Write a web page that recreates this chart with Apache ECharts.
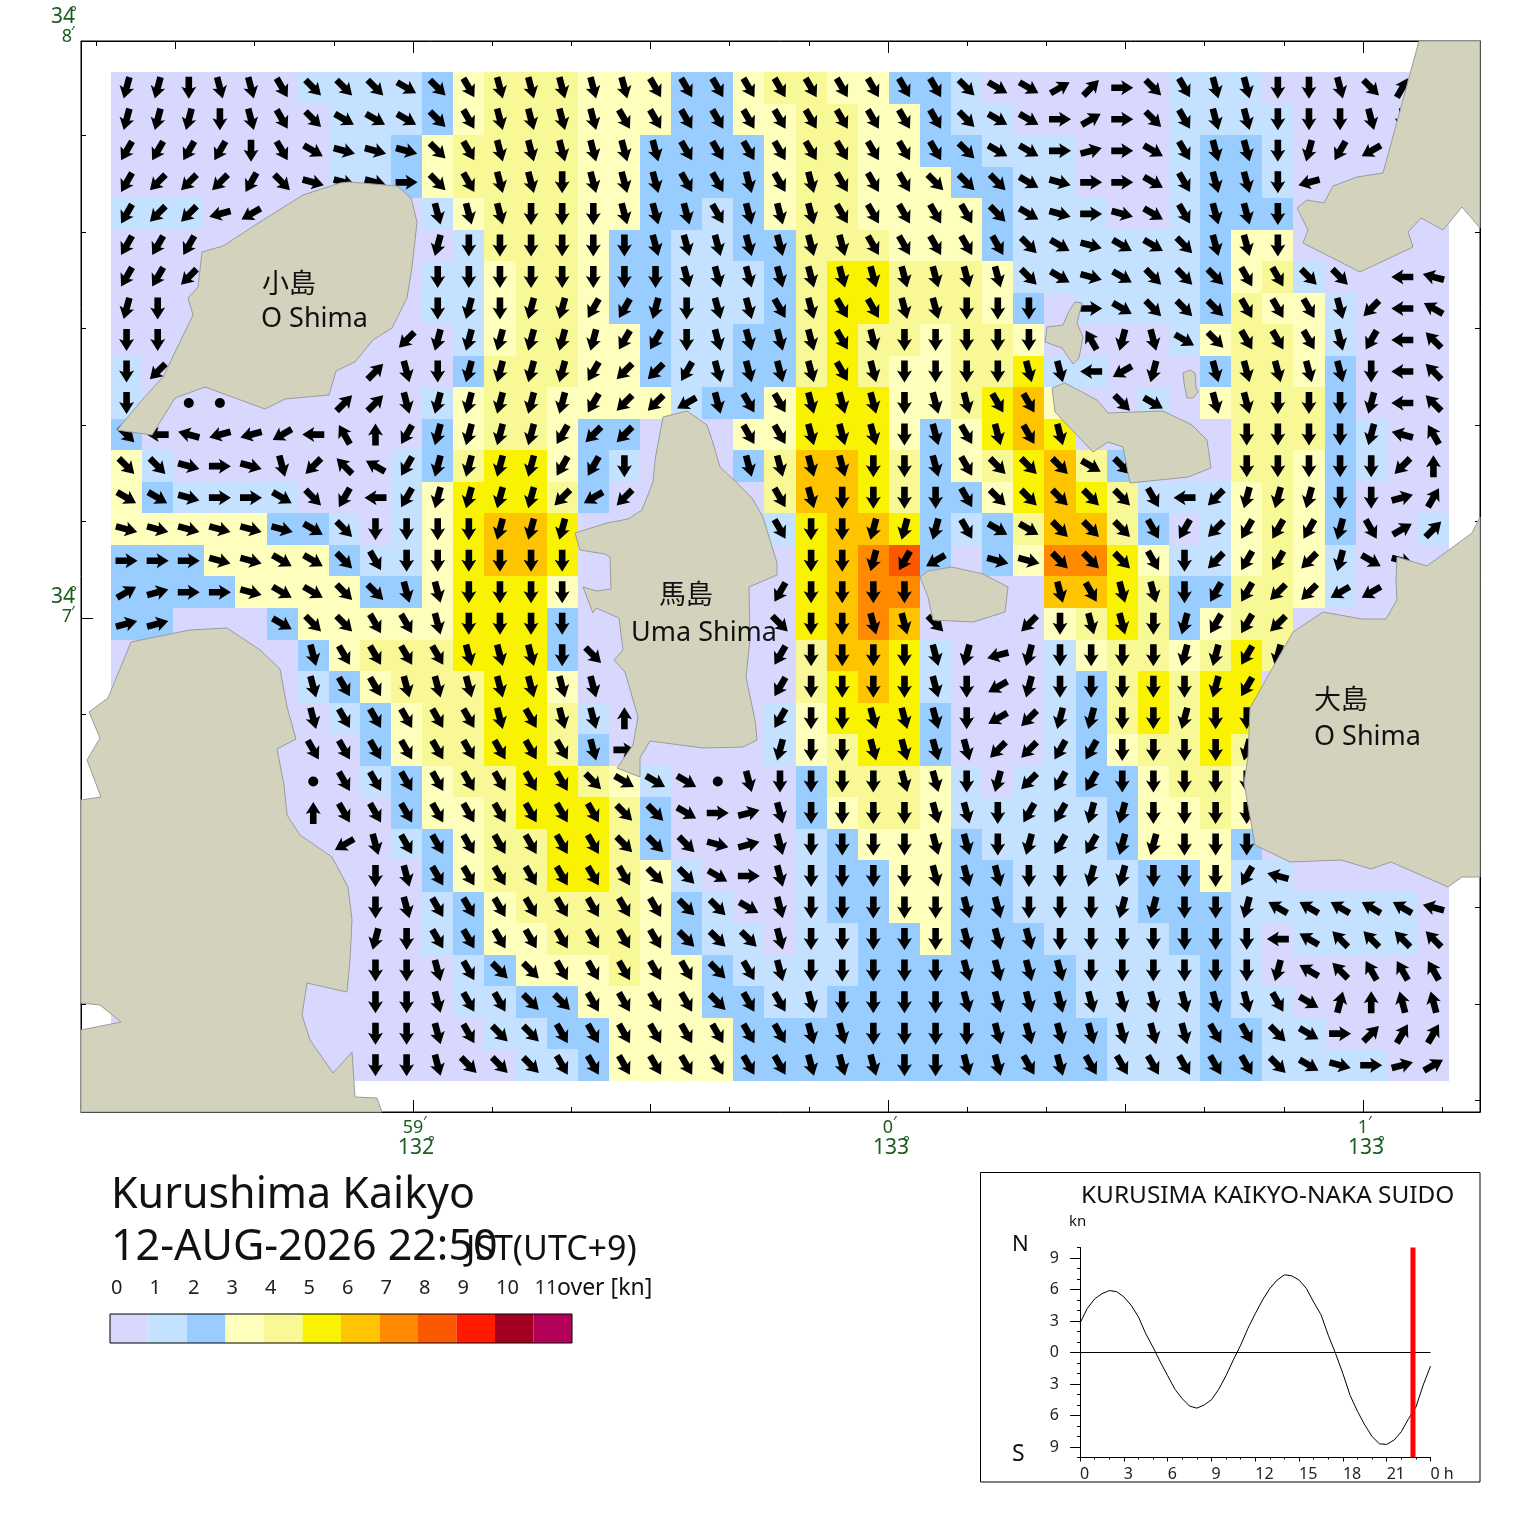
<!DOCTYPE html>
<html><head><meta charset="utf-8"><title>Kurushima Kaikyo</title>
<script src="https://cdn.jsdelivr.net/npm/echarts@6/dist/echarts.min.js"></script>
<style>html,body{margin:0;background:#fff}#c{width:1520px;height:1533px}</style></head>
<body><div id="c"></div>
<script>
// speed class (kn band) per cell, 32 rows by 43 columns; spaces only separate runs
const speedRows = [
"000000 1111 2 3 444 333 22 3 44 33 22 1 000000 111 000000",
"0000000 111 2 3 444 333 22 33 44 33 2 11 00000 1111 00000",
"0000000 11 2 3 4444 33 2222 3 44 33 22 111 000 1 22 1 00000",
"0000000 11 2 3 4444 33 2222 3 44 333 22 11 000 1 22 1 00000",
"111 0000000 1 3 444 33 22 1 2 3 44 3333 2 111 00 1 222 00000",
"00000000000 1 444 3 22 11 22 444 333 2 111111 2 33 00000",
"0000000000 11 3 44 3 22 111 2 4 55 444 3 111111 2 3 4 1 0000",
"0000000000 11 3 44 3 22 111 2 4 55 444 3 2 0 1111 2 4 33 1 000",
"00000000000 1 3 44 33 2 11 22 4 5 44 3 44 3 0000 1 3 44 3 1 000",
"1 0000000000 2 444 33 2 11 22 4 5 4 33 44 5 11 000 2 44 3 2 000",
"1 000000000 1 3 44 3333 1 22 3 555 33 4 5 6 3 00 1 0 3 444 2 000",
"2 000000000 2 3 44 3 22 000 33 555 3 2 3 5 6 5 00000 444 2 1 00",
"3 1 0000000 1 2 4 55 3 2 1 000 2 4 66 5 4 2 3 4 5 6 4 2 000 44 3 2 1 00",
"3 2 1111 000 1 3 555 4 2 0 000 0 4 66 5 4 22 3 5 6 5 4 111 3 4 3 2 000",
"33333 22 1 0 1 3 5 66 5 000000 1 5 66 5 2 1 2 4 66 4 2 0 1 3 4 3 2 00 1",
"222 3333 2 11 3 5 66 5 000000 0 5 6 7 8 2 0 2 3 77 5 3 11 3 4 3 1 000",
"2222 3333 22 3 555 3 000000 0 5 6 77 0000 66 5 4 22 44 3 1 000",
"22 000 2 33333 555 2 000000 0 5 6 7 6 0000 3 4 5 4 2 3 44 00000",
"000000 2 3 444 555 2 000000 0 4 66 5 1 000 1 3 44 3 4 5 4 00000",
"000000 1 2 3 444 55 3 000000 0 4 5 6 5 1 000 1 2 4 5 4 55 000000",
"0000000 1 2 3 44 55 4 1 00000 1 3 555 2 000 1 2 4 5 4 55 000000",
"00000000 2 3 44 55 4 2 00000 1 3 4 55 2 000 1 2 3 44 5 4 000000",
"00000000 1 2 3 44 55 4 3 1 0000 2 444 3 1 0 11 22 3 44 3 000000",
"000000000 2 33 4 555 4 2 0000 2 3 44 3 11111 2 33 4 3 000000",
"000000000 1 2 3 44 55 4 2 0000 1 2 333 2 1111 2 333 2 000000",
"0000000000 2 3 44 55 4 3 1 000 1 22 33 22 1111 22 3 11 00000",
"0000000000 1 2 3 4444 3 2 1 00 1 22 33 22 1111 222 111111 0",
"0000000000 1 2 33 444 3 2 11 0 11 22 3 222 1111 22 1 0 1111 0",
"00000000000 1 2 333 4 33 2 1111 2222222 1111 2 1 000000",
"00000000000 11 22 3333 22 11 22222222 1111 2 11 00000",
"000000000000 11 22 3333 222222222222 111 22 11 0000",
"0000000000000 11 2 3333 222222222222 111 22 1111 00"
];
// current direction per cell: a=N, then 15 degrees clockwise per letter (g=E, m=S, s=W); . none, * slack
const directionCodes = "abcdefghijklmnopqrstuvwx";
const directionRows = [
"nnmllkjjji jklllllkkk kkkkkkkjii edgjkllmml jc.",
"nnnmlkjiii jkllllkkkk kkkkkkkjii gegjkllmmm lm.",
"oooomkihhh jkllllllkk kkkkkkkjii gfgikllmno q..",
"opppojhhhg jkllmlllkk lklkkkjjji hggikllmr. ...",
"opprq..... lllmmmlllk lllkkkkkji hghikllm.. ...",
"ooo....... nmmmmmmlll llllkkkkkj ihiijllm.. ...",
"oop....... mmmmmmmmll lllllllllj ihijjjkkjj .st",
"nm........ mnmnnoonml lklkkllmmm .gijjjkkkl psu",
"mm.......p nnnnnnooml lllklmmmmm .wnlijkkkl osv",
"mp......dl mnnnnoppol lllklmmmml lsqn.lllll msv",
"m.**...ddl nnnnnoppql kklllmllkk ..ji.llmmm nsv",
"jstrrqswao nnnnopp... kklllmlklk l.....mmmm ntw",
"jjhghlpvuo nnnnoom... llllmmlkjj jij...mmmm mpa",
"iihggijoso nnnnpqp... .klmmmmkjj jjjkspnnnm mfc",
"hhhhhhijmm mmnnn..... .kmmnnnkii jjjkopooon ked",
"ggghhiijkm mmmmm..... ..mmnoq.hh jjjkmpoopn ih.",
"efgghiijjl lmmmm..... .ommmm.... lkllmooppq q..",
"ff...ijjkk lmmmm..... .jmmllj..p mllmnoop.. ...",
"......lkkk klllmj.... .ommmmlnrn mmmmnnon.. ...",
"......lkkl llllll.... .ommmmlmqn mmmmmno... ...",
"......lkkk kklklla... .ommlllmqp nnmmnmm... ...",
"......kkkk kkkkklg... .nmmllllpp oommmmn... ...",
"......*kkk kkkkkjiii* lmmmmllmnp oommmmm... ...",
"......akkk kkkkkkjjig flmmmmllmo onnmmmm... ...",
".......qlk kkkkkkjjjh flmmmmllmn oonnmmm... ...",
"........ml kkkkkkkjji glmmmmlllm mnnmmmot.. ...",
"........ml kkkkkkkkjj ilmmmmmllm mmnnmmnuuu uut",
"........nm kkkkkkkkjj jlmmmmmlll mmmmmmmsuv vvv",
"........mm lkjjkkkkkj klmmmmmlll lmmmmmmnuv www",
"........mm lkkjjkkkkj kklmmmmlll lllllllkib axx",
"........mm lkjjkkkkkk kkllmmmmll lllllkkjig dcc",
"........mm ljjjkkkkkk kklllmmllk lkkkkkkjih gfe"
];
const landSmallShima = [[349,182],[397,186],[411,198],[417,222],[412,267],[407,298],[392,328],[373,340],[355,362],[336,371],[329,395],[285,399],[265,409],[205,387],[175,398],[152,435],[117,430],[142,400],[163,377],[193,315],[188,298],[198,287],[202,252],[223,246],[263,220],[303,195],[340,183]];
const landSouthWest = [[131,642],[190,630],[227,628],[260,650],[280,669],[287,707],[296,739],[277,749],[284,785],[287,815],[300,835],[332,857],[348,887],[352,920],[350,960],[347,992],[307,983],[302,1015],[310,1040],[333,1073],[352,1052],[355,1097],[377,1098],[382,1112],[81,1112],[81,1030],[121,1022],[100,1005],[81,1003],[81,800],[101,797],[87,760],[100,738],[89,712],[108,698]];
const landUmaShima = [[687,411],[707,425],[713,443],[720,467],[737,483],[752,498],[763,517],[777,563],[777,575],[749,587],[750,640],[746,677],[755,720],[757,740],[743,747],[703,748],[650,741],[640,758],[640,777],[617,768],[633,745],[638,717],[625,672],[614,660],[623,650],[619,618],[596,608],[593,613],[583,587],[597,591],[611,589],[610,557],[605,554],[580,550],[575,533],[607,523],[628,519],[642,510],[653,482],[655,460],[663,417]];
const landEastOfUma = [[920,577],[928,571],[952,567],[983,574],[1008,587],[1005,612],[973,622],[933,620],[928,597]];
const landOshima = [[1480,517],[1472,533],[1427,566],[1397,557],[1396,582],[1397,600],[1386,619],[1362,619],[1323,612],[1293,632],[1277,660],[1250,708],[1248,757],[1244,783],[1255,845],[1290,862],[1341,860],[1371,869],[1391,862],[1448,887],[1462,877],[1480,877]];
const landNorthEast = [[1419,41],[1407,85],[1383,173],[1357,177],[1333,186],[1324,203],[1307,200],[1297,208],[1308,230],[1303,243],[1360,272],[1413,247],[1408,232],[1421,218],[1443,230],[1462,207],[1480,228],[1480,41]];
const landIsletA = [[1075,302],[1082,303],[1077,323],[1083,337],[1079,358],[1073,364],[1062,348],[1045,342],[1047,327],[1063,325],[1068,313]];
const landIsletB = [[1183,373],[1190,370],[1195,373],[1196,388],[1198,392],[1193,398],[1187,398],[1184,383]];
const landHashihama = [[1052,388],[1065,383],[1097,400],[1108,413],[1163,411],[1192,425],[1207,440],[1211,468],[1188,477],[1130,483],[1123,447],[1108,442],[1093,452],[1055,412]];
const legendColors = ["#d8d8ff","#c4e2ff","#99ccff","#ffffbd","#f8f896","#f9f200","#ffc400","#ff8a00","#fb5800","#ff1a00","#a30022","#b30058"];
const legendLabels = ["0","1","2","3","4","5","6","7","8","9","10","11"];
const tideHours = [0,.5,1,1.5,2,2.5,3,3.5,4,4.5,5,5.5,6,6.5,7,7.5,8,8.5,9,9.5,10,10.5,11,11.5,12,12.5,13,13.5,14,14.5,15,15.5,16,16.5,17,17.5,18,18.5,19,19.5,20,20.5,21,21.5,22,22.5,23,23.5,24];
const tideKnots = [2.8,4.2,5.1,5.6,5.9,5.8,5.3,4.5,3.4,1.8,.5,-.9,-2.2,-3.5,-4.4,-5.1,-5.3,-5,-4.5,-3.5,-2.2,-.7,.7,2.3,3.7,5,6.1,6.9,7.4,7.3,6.9,6.1,4.8,3.6,1.65,-.1,-2,-4.1,-5.6,-6.9,-8,-8.7,-8.75,-8.35,-7.55,-6.3,-5.2,-3.1,-1.3];
const nowHour = 22.8;

const FONT = '"Noto Sans","Noto Sans CJK JP"', GREEN = '#1a5c22';
const CELL_W = 31.116, CELL_H = 31.53, ORIGIN_X = 111, ORIGIN_Y = 72;
const clean = s => s.replace(/\s+/g,'');
const cells = [], arrows = [], dots = [];
speedRows.forEach((row,r) => {
  const sp = clean(row), dir = clean(directionRows[r]);
  for (let c = 0; c < sp.length; c++) {
    const x = ORIGIN_X + CELL_W*(c+.5), y = ORIGIN_Y + CELL_H*(r+.5);
    cells.push([x,y,+sp[c]]);
    const d = dir[c];
    if (d === '*') dots.push([x,y]);
    else if (d && d !== '.') arrows.push({value:[x,y], symbolRotate:-15*directionCodes.indexOf(d)});
  }
});
const lands = [landSmallShima,landSouthWest,landUmaShima,landEastOfUma,landOshima,landNorthEast,landIsletA,landIsletB,landHashihama];
const lonTick = k => 888 + 79.17*k, latTick = k => 618 + 96.5*k;
const range = (a,b) => { const o=[]; for(let i=a;i<=b;i++) o.push(i); return o; };
const lonAll = range(-10,7), latAll = range(-5,5);
const lonMid = lonAll.filter(k=>((k%3)+3)%3===0 && k%6!==0);
const lonMajor = [-6,0,6], latMajor = [0];
const lonLabel = {[Math.round(lonTick(-6))]:['59','132'],[Math.round(lonTick(0))]:['0','133'],[Math.round(lonTick(6))]:['1','133']};
const greenRich = {
  d:{fontFamily:FONT,fontSize:21,lineHeight:20,color:GREEN},
  dx:{fontFamily:FONT,fontSize:21,lineHeight:20,color:GREEN,padding:[0,0,0,6]},
  m:{fontFamily:FONT,fontSize:18,lineHeight:20,color:GREEN},
  my:{fontFamily:FONT,fontSize:18,lineHeight:20,color:GREEN,padding:[0,3,0,0]},
  s:{fontSize:10,lineHeight:28}
};
const grids=[], xAxes=[], yAxes=[];
const MAP = {left:81,top:41,width:1399,height:1071};
function mapTicks(xs, ys, len, labels){
  const gi = grids.length;
  grids.push({...MAP, show: gi===0, borderColor:'#000', borderWidth:1, backgroundColor:'transparent'});
  const line = {show:gi===0, lineStyle:{color:'#000',width:1}};
  ['bottom','top'].forEach(pos=>xAxes.push({type:'value',gridIndex:gi,position:pos,min:81,max:1480,splitLine:{show:false},axisLine:line,
    axisTick:{show:xs.length>0,inside:true,length:len,customValues:xs,lineStyle:{color:'#000',width:1}},
    axisLabel: labels && pos==='bottom' ? {show:true,customValues:xs,margin:6,hideOverlap:false,showMinLabel:true,showMaxLabel:true,rich:greenRich,
      formatter:v=>{const l=lonLabel[Math.round(v)];return l?`{m|${l[0]}}\n{dx|${l[1]}}`:'';}} : {show:false}}));
  ['left','right'].forEach(pos=>yAxes.push({type:'value',gridIndex:gi,position:pos,inverse:true,min:41,max:1112,splitLine:{show:false},axisLine:line,
    axisTick:{show:ys.length>0,inside:true,length:len,customValues:ys,lineStyle:{color:'#000',width:1}},
    axisLabel: labels && pos==='left' ? {show:true,customValues:[41,621],margin:6,align:'right',hideOverlap:false,showMinLabel:true,showMaxLabel:true,rich:greenRich,
      formatter:v=>`{d|34}\n{my|${v<100?8:7}}\n{s| }`} : {show:false}}));
  return gi;
}
mapTicks(lonAll.map(lonTick), latAll.map(latTick), 5, false);
mapTicks(lonMid.map(lonTick), [], 8, false);
mapTicks(lonMajor.map(lonTick), latMajor.map(latTick).concat([41]), 12, true);

// legend bar
const legendGrid = grids.length;
grids.push({left:110,top:1314,width:462,height:29,show:true,borderColor:'#000',borderWidth:1,backgroundColor:'transparent',z:5});
const legendX = xAxes.length, legendY = yAxes.length;
xAxes.push({type:'value',gridIndex:legendGrid,position:'top',min:0,max:12,axisLine:{show:false},axisTick:{show:false},splitLine:{show:false},
  axisLabel:{show:true,customValues:range(0,11),align:'left',margin:16,color:'#222',fontFamily:FONT,fontSize:20,padding:[0,0,0,1],hideOverlap:false,formatter:v=>legendLabels[v]}});
yAxes.push({type:'value',gridIndex:legendGrid,min:0,max:1,show:false});

// tide panel
const tideGrid = grids.length;
const TIDE={left:1080,top:1247.5,width:350.5,height:210};
grids.push({...TIDE});
const tideX = xAxes.length, tideY = yAxes.length;
xAxes.push({type:'value',gridIndex:tideGrid,position:'bottom',min:0,max:24,axisLine:{show:true,onZero:false,lineStyle:{color:'#000'}},splitLine:{show:false},
  axisTick:{show:true,length:4,customValues:range(0,8).map(i=>i*3),lineStyle:{color:'#000'}},
  axisLabel:{show:true,customValues:range(0,8).map(i=>i*3),margin:9,align:'left',color:'#222',fontFamily:FONT,fontSize:16,hideOverlap:false,showMaxLabel:true,showMinLabel:true,formatter:v=>v===24?'0 h':String(v)}});
yAxes.push({type:'value',gridIndex:tideGrid,position:'left',min:-10,max:10,axisLine:{show:true,onZero:false,lineStyle:{color:'#000'}},splitLine:{show:false},
  axisTick:{show:true,length:10,customValues:[-9,-6,-3,0,3,6,9],lineStyle:{color:'#000'}},
  axisLabel:{show:true,customValues:[-9,-6,-3,0,3,6,9],margin:21,color:'#222',fontFamily:FONT,fontSize:16,padding:[4,0,0,0],hideOverlap:false,formatter:v=>String(Math.abs(v))}});
const tideGrid2 = grids.length;
grids.push({...TIDE});
xAxes.push({type:'value',gridIndex:tideGrid2,position:'bottom',min:0,max:24,axisLine:{show:false,onZero:false},splitLine:{show:false},axisLabel:{show:false},
  axisTick:{show:true,length:2,customValues:range(0,24),lineStyle:{color:'#000'}}});
yAxes.push({type:'value',gridIndex:tideGrid2,position:'left',min:-10,max:10,axisLine:{show:false,onZero:false},splitLine:{show:false},axisLabel:{show:false},
  axisTick:{show:true,length:3,customValues:range(-10,10),lineStyle:{color:'#000'}}});

const txt = (text,x,y,size,opt={}) => ({type:'text',z:50,silent:true,style:{text,x,y,fill:opt.fill||'#111',font:`${size}px ${FONT}`,textVerticalAlign:'middle',textAlign:opt.align||'left'}});
const option = {
  animation:false, backgroundColor:'#fff',
  grid:grids, xAxis:xAxes, yAxis:yAxes,
  series:[
    {type:'custom',xAxisIndex:0,yAxisIndex:0,z:1,data:cells,progressive:0,silent:true,
      renderItem:(p,api)=>{
        const a=api.coord([api.value(0)-CELL_W/2,api.value(1)-CELL_H/2]), b=api.coord([api.value(0)+CELL_W/2,api.value(1)+CELL_H/2]);
        const x0=Math.round(a[0]),y0=Math.round(a[1]),x1=Math.round(b[0]),y1=Math.round(b[1]);
        return {type:'rect',shape:{x:x0,y:y0,width:x1-x0,height:y1-y0},style:{fill:legendColors[api.value(2)]}};
      }},
    {type:'scatter',xAxisIndex:0,yAxisIndex:0,z:2,data:arrows,progressive:0,silent:true,
      symbol:'path://M7.5 0L15 12L10.8 10.5L10.8 22L4.2 22L4.2 10.5L0 12Z',symbolSize:[15,22],itemStyle:{color:'#000',opacity:1}},
    {type:'scatter',xAxisIndex:0,yAxisIndex:0,z:2,data:dots,silent:true,symbol:'circle',symbolSize:10,itemStyle:{color:'#000',opacity:1}},
    {type:'custom',xAxisIndex:0,yAxisIndex:0,z:3,data:lands.map((_,i)=>[i]),silent:true,
      renderItem:(p,api)=>({type:'polygon',shape:{points:lands[p.dataIndex].map(q=>api.coord(q))},style:{fill:'#d3d3bd',stroke:'#9b9b9b',lineWidth:1}})},
    {type:'custom',xAxisIndex:legendX,yAxisIndex:legendY,z:4,silent:true,
      data:legendColors.map((_,i)=>[i]),
      renderItem:(p,api)=>{const a=api.coord([api.value(0),1]),b=api.coord([api.value(0)+1,0]);
        return {type:'rect',shape:{x:a[0],y:a[1],width:b[0]-a[0],height:b[1]-a[1]},style:{fill:legendColors[api.value(0)]}};}},
    {type:'line',xAxisIndex:tideX,yAxisIndex:tideY,z:3,silent:true,symbol:'none',
      data:tideHours.map((h,i)=>[h,tideKnots[i]]),lineStyle:{color:'#000',width:1}},
    {type:'line',xAxisIndex:tideX,yAxisIndex:tideY,z:3,silent:true,symbol:'none',
      data:[[0,0],[24,0]],lineStyle:{color:'#000',width:1}},
    {type:'line',xAxisIndex:tideX,yAxisIndex:tideY,z:4,silent:true,symbol:'none',
      data:[[nowHour,-10],[nowHour,10]],lineStyle:{color:'#ff0000',width:5,cap:'butt'}}
  ],
  graphic:[
    txt('小島',262,285,27),txt('O Shima',261,319,27),
    txt('馬島',659,596,27),txt('Uma Shima',631,633,27),
    txt('大島',1314,701,27),txt('O Shima',1314,737,27),
    txt('Kurushima Kaikyo',111,1196,43),
    txt('12-AUG-2026 22:50',111,1248,43),
    txt('JST(UTC+9)',466,1250,34),
    txt('over [kn]',557,1288,23),
    txt('KURUSIMA KAIKYO-NAKA SUIDO',1081,1196,24.4),
    txt('kn',1069,1222,15),
    txt('N',1012,1245,22),txt('S',1012,1454,23),
    ...[[423,1123,'′'],[428,1143,'°'],[893,1123,'′'],[903,1143,'°'],[1368,1123,'′'],[1378,1143,'°'],[70,13,'°'],[71,33,'′'],[70,593,'°'],[71,613,'′']].map(m=>txt(m[2],m[0],m[1],16,{fill:GREEN})),
    {type:'rect',z:40,silent:true,shape:{x:980.5,y:1172.5,width:499.5,height:309.5},style:{fill:'transparent',stroke:'#000',lineWidth:1}}
  ]
};
const chart = echarts.init(document.getElementById('c'),null,{renderer:'canvas'});
chart.setOption(option);
</script></body></html>
